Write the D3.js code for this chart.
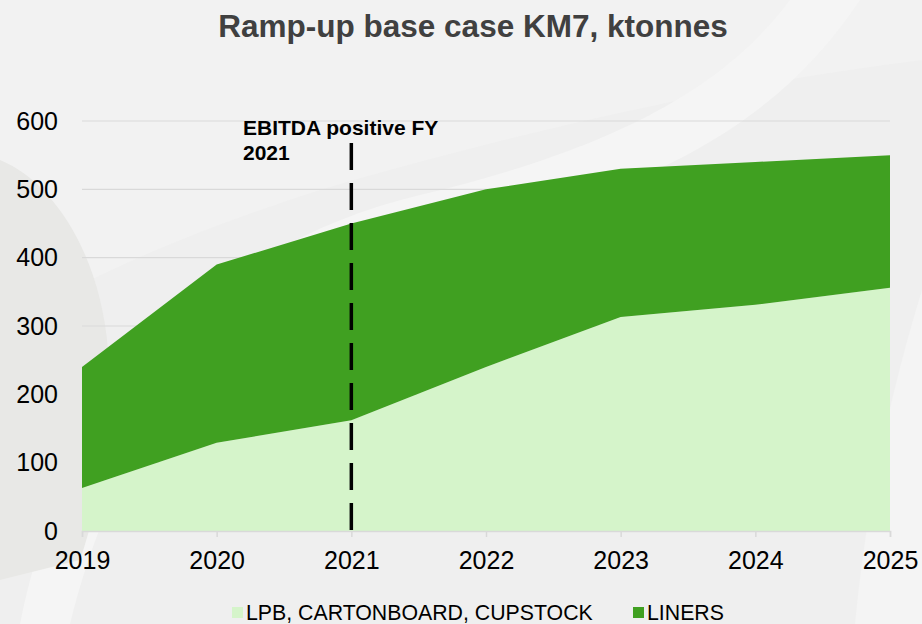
<html>
  <meta charset="utf-8" />
  <script src="https://d3js.org/d3.v7.min.js"></script>
  <style>
    body { margin: 0; background: #efefef; }
    text { font-family: "Liberation Sans", Arial, sans-serif; }
  </style>
  <body>
    <svg width="922" height="624" id="chart"></svg>
    <script>
      // chart values
      const years = [2019, 2020, 2021, 2022, 2023, 2024, 2025];
      const lpb = [63, 129, 162, 240, 313, 331, 356];
      const liners = [177, 261, 288, 260, 217, 209, 194];
      const yTicks = [0, 100, 200, 300, 400, 500, 600];
      const seriesNames = ["LPB, CARTONBOARD, CUPSTOCK", "LINERS"];
      const seriesColors = ["#d5f4ca", "#40a021"];
      const markerYear = 2021;
      const markerLabel = ["EBITDA positive FY", "2021"];

      const svg = d3.select("#chart");

      // soft background swooshes
      const bg = svg.append("g");
      bg.append("rect").attr("width", 922).attr("height", 624).attr("fill", "#efefef");
      bg.append("path")
        .attr("d", "M0,0 L922,0 L922,60 C760,80 560,120 320,190 C180,235 80,280 0,330 Z")
        .attr("fill", "#f2f2f2");
      bg.append("path")
        .attr("d", "M860,0 C780,120 660,190 440,240 C260,285 130,380 70,624 L20,624 C60,420 190,250 420,195 C630,145 730,80 790,0 Z")
        .attr("fill", "#f5f5f5");
      bg.append("path")
        .attr("d", "M0,160 C50,180 100,250 108,350 C114,430 100,500 80,560 L0,580 Z")
        .attr("fill", "#e8e8e6");
      bg.append("path")
        .attr("d", "M922,290 C885,410 865,520 855,624 L922,624 Z")
        .attr("fill", "#f4f4f4");

      const x = d3.scaleLinear().domain([2019, 2025]).range([82, 890]);
      const y = d3.scaleLinear().domain([0, 600]).range([531, 121]);

      // gridlines
      svg.append("g")
        .selectAll("line")
        .data(yTicks.filter((d) => d > 0))
        .join("line")
        .attr("x1", x(2019))
        .attr("x2", x(2025))
        .attr("y1", (d) => y(d))
        .attr("y2", (d) => y(d))
        .attr("stroke", "#d9d9d9")
        .attr("stroke-width", 1.2);

      const table = years.map((yr, i) => ({ year: yr, lpb: lpb[i], liners: liners[i] }));
      const stack = d3.stack().keys(["lpb", "liners"]);
      const area = d3.area()
        .x((d) => x(d.data.year))
        .y0((d) => y(d[0]))
        .y1((d) => y(d[1]));

      svg.append("g")
        .selectAll("path")
        .data(stack(table))
        .join("path")
        .attr("d", area)
        .attr("fill", (d, i) => seriesColors[i]);

      // x axis
      const xAxis = svg.append("g")
        .attr("transform", `translate(0, ${y(0)})`)
        .call(d3.axisBottom(x).tickValues(years).tickFormat(d3.format("d")).tickSize(6).tickPadding(14));
      xAxis.select(".domain").attr("stroke", "#d9d9d9").attr("stroke-width", 1.5);
      xAxis.selectAll(".tick line").attr("stroke", "#d9d9d9").attr("stroke-width", 1.5);
      xAxis.selectAll("text")
        .attr("font-size", 25)
        .attr("fill", "#000")
        .style("font-family", "Liberation Sans, Arial, sans-serif");

      // y axis
      const yAxis = svg.append("g")
        .attr("transform", `translate(${x(2019)}, 0)`)
        .call(d3.axisLeft(y).tickValues(yTicks).tickSize(0).tickPadding(24));
      yAxis.select(".domain").remove();
      yAxis.selectAll("text")
        .attr("font-size", 25)
        .attr("fill", "#000")
        .style("font-family", "Liberation Sans, Arial, sans-serif");

      // dashed marker
      svg.append("line")
        .attr("x1", x(markerYear))
        .attr("x2", x(markerYear))
        .attr("y1", 143)
        .attr("y2", y(0))
        .attr("stroke", "#000")
        .attr("stroke-width", 3.5)
        .attr("stroke-dasharray", "27,13");

      svg.append("text")
        .attr("x", 243)
        .attr("y", 135)
        .attr("font-size", 21)
        .attr("font-weight", "bold")
        .selectAll("tspan")
        .data(markerLabel)
        .join("tspan")
        .attr("x", 243)
        .attr("dy", (d, i) => (i === 0 ? 0 : 25))
        .text((d) => d);

      // title
      svg.append("text")
        .attr("x", 473)
        .attr("y", 37)
        .attr("text-anchor", "middle")
        .attr("font-size", 31.5)
        .attr("font-weight", "bold")
        .attr("fill", "#404040")
        .text("Ramp-up base case KM7, ktonnes");

      // legend
      const legend = svg.append("g").attr("transform", "translate(0, 620)");
      const legendX = [232, 633];
      seriesNames.forEach((name, i) => {
        legend.append("rect")
          .attr("x", legendX[i])
          .attr("y", -13)
          .attr("width", 11)
          .attr("height", 11)
          .attr("fill", seriesColors[i]);
        legend.append("text")
          .attr("x", legendX[i] + 14)
          .attr("y", 0)
          .attr("font-size", 21.3)
          .attr("fill", "#000")
          .text(name);
      });
    </script>
  </body>
</html>
